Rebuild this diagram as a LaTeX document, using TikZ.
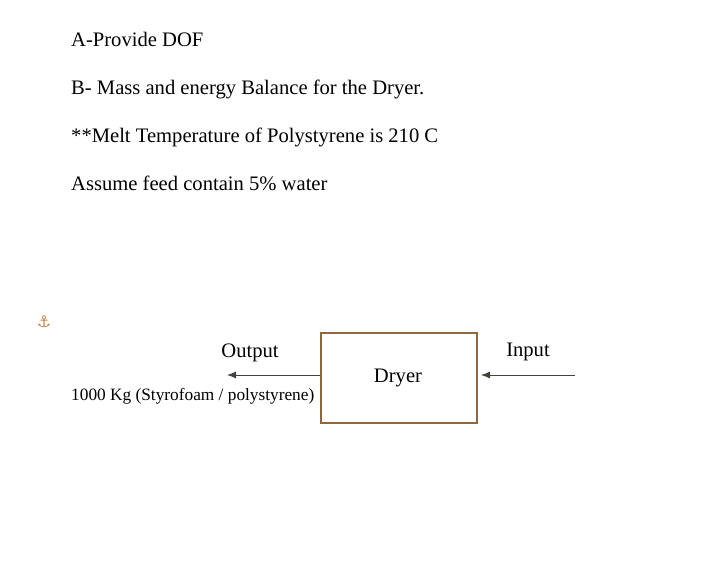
\documentclass[tikz,border=0pt]{standalone}
\usepackage{fontspec}
\setmainfont{Liberation Serif}
\newfontfamily\symfont{DejaVu Sans}
\usetikzlibrary{arrows.meta}
\definecolor{boxbrown}{RGB}{140,104,60}
\definecolor{anchorc}{RGB}{196,130,70}
\definecolor{arrowc}{RGB}{70,64,60}
\tikzset{
  big/.style={font=\fontsize{20.6}{23}\selectfont, inner sep=0pt, anchor=base west},
  lbl/.style={font=\fontsize{20.6}{23}\selectfont, inner sep=0pt, anchor=base},
  small/.style={font=\fontsize{17.3}{20}\selectfont, inner sep=0pt, anchor=base west},
  flow/.style={draw=arrowc, line width=0.9pt, -{Latex[length=9pt,width=7pt]}},
}
\begin{document}
\begin{tikzpicture}[x=1pt,y=-1pt]
\useasboundingbox[fill=white] (0,0) rectangle (712,567);
\node[big] (t1) at (71,46.7) {A-Provide DOF};
\node[big] (t2) at (71,94.5) {B- Mass and energy Balance for the Dryer.};
\node[big] (t3) at (71,142.5) {**Melt Temperature of Polystyrene is 210 C};
\node[big] (t4) at (71,190) {Assume feed contain 5\% water};
\node[inner sep=0pt, text=anchorc, font=\symfont\fontsize{16}{17}\selectfont] (anc) at (44,322) {⚓};
\node[draw=boxbrown, line width=2pt, minimum width=156pt, minimum height=90pt, inner sep=0pt] (dryer) at (399,378) {};
\node[lbl] (dl) at (398,382.5) {Dryer};
\node[lbl] (outl) at (250,357) {Output};
\node[lbl] (inl) at (528,356) {Input};
\node[small] (mass) at (71,400) {1000 Kg (Styrofoam / polystyrene)};
\coordinate (outend) at (227,375);
\coordinate (instart) at (575,375);
\coordinate (inend) at (481,375);
\draw[flow] (dryer.west |- outend) -- (outend);
\draw[flow] (instart) -- (inend);
\end{tikzpicture}
\end{document}
